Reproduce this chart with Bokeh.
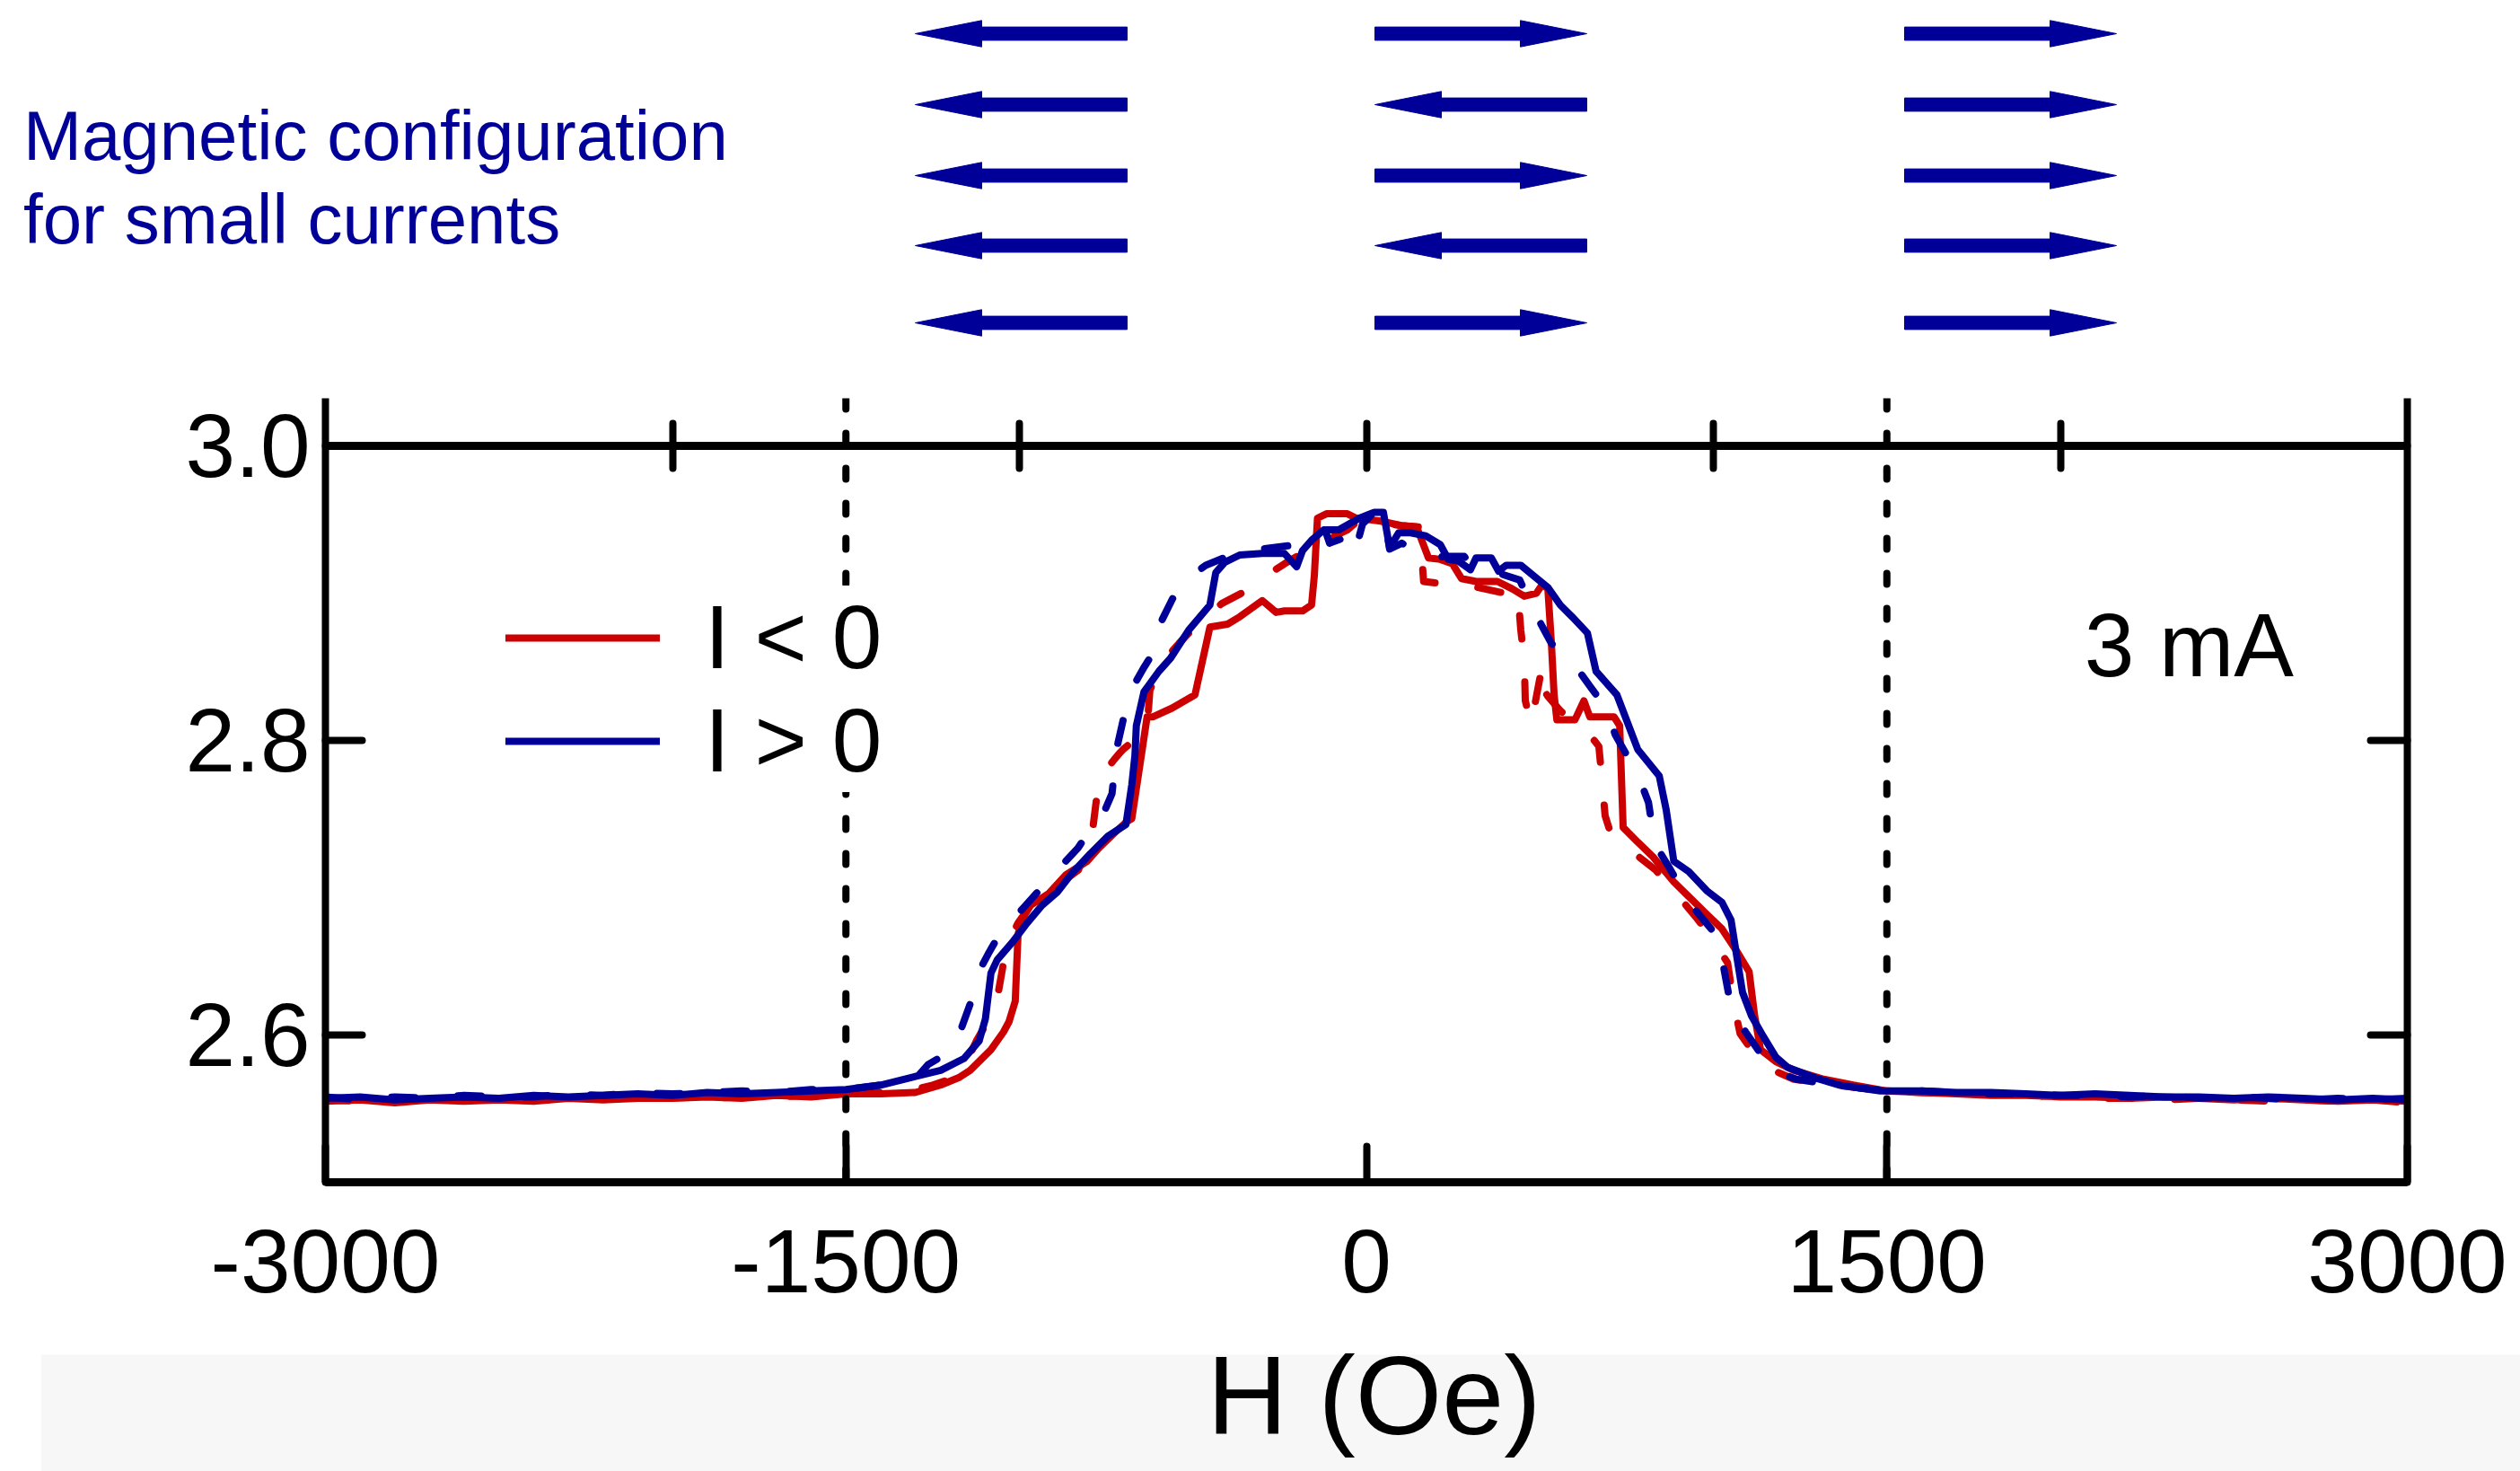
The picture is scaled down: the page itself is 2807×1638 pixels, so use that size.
from bokeh.plotting import figure
from bokeh.models import (Range1d, LinearAxis, FixedTicker, Span, Legend, LegendItem,
                          Label, PrintfTickFormatter, CustomJSTickFormatter)
from bokeh.embed import file_html
from bokeh.resources import INLINE
from bokeh.core.properties import value

# ---------------------------------------------------------------- data
# I < 0, solid sweep
red_solid_H = [-3000, -2900, -2800, -2700, -2600, -2500, -2400, -2300, -2200, -2100, -2000, -1900,
               -1800, -1700, -1600, -1500,
               -1400, -1300, -1227, -1175, -1142, -1082, -1046, -1030, -1012, -1004,
               -994, -968, -916, -865, -805, -771, -727, -690, -676, -632,
               -616, -560, -494, -451, -400, -365, -300, -260, -236, -184,
               -158, -150, -141, -115, -55, -29, 41, 100, 145, 161,
               179, 213, 248, 274, 316, 378, 420, 455, 490, 507,
               523, 533, 541, 549, 601, 627, 644, 714, 730, 740,
               782, 826, 886, 929, 981, 1025, 1070, 1103, 1119, 1136,
               1180, 1232, 1318, 1403, 1500,
               1600, 1700, 1800, 1900, 2000, 2100, 2200, 2300, 2400, 2500, 2600, 2700, 2800, 2900, 3000]
red_solid_R = [2.555, 2.556, 2.554, 2.556, 2.555, 2.556, 2.555, 2.557, 2.556, 2.557, 2.557, 2.558,
               2.557, 2.559, 2.558, 2.560,
               2.560, 2.561, 2.566, 2.571, 2.576, 2.590, 2.602, 2.609, 2.623, 2.668,
               2.678, 2.688, 2.696, 2.709, 2.718, 2.727, 2.737, 2.745, 2.747, 2.816,
               2.816, 2.822, 2.831, 2.877, 2.879, 2.884, 2.895, 2.887, 2.888, 2.888,
               2.892, 2.912, 2.951, 2.954, 2.954, 2.951, 2.949, 2.946, 2.945, 2.935,
               2.924, 2.923, 2.920, 2.910, 2.908, 2.908, 2.903, 2.898, 2.900, 2.906,
               2.903, 2.867, 2.831, 2.814, 2.814, 2.827, 2.816, 2.816, 2.810, 2.741,
               2.731, 2.721, 2.704, 2.694, 2.682, 2.672, 2.656, 2.643, 2.613, 2.590,
               2.582, 2.576, 2.570, 2.566, 2.562,
               2.561, 2.560, 2.559, 2.559, 2.558, 2.558, 2.557, 2.558, 2.557, 2.556, 2.557, 2.556, 2.555, 2.556, 2.555]

# I < 0, dashed sweep
red_dash_H = [-3000, -2900, -2800, -2700, -2600, -2500, -2400, -2300, -2200, -2100, -2000, -1900,
              -1800, -1700, -1600, -1500,
              -1400, -1300, -1250, -1200, -1160, -1124, -1082, -1060, -1051, -1038,
              -1004, -968, -916, -870, -830, -810, -787, -778, -774, -750,
              -727, -709, -701, -650, -630, -624, -593, -540, -487, -417,
              -360, -308, -236, -150, -100, -55, -20, 40, 100, 150,
              158, 165, 200, 300, 400, 430, 440, 445, 455, 458,
              475, 490, 507, 515, 523, 560, 600, 640, 670, 678,
              688, 700, 722, 780, 834, 886, 950, 989, 1041, 1059,
              1077, 1110, 1154, 1232, 1350, 1500,
              1600, 1700, 1800, 1900, 2000, 2100, 2200, 2300, 2400, 2500, 2600, 2700, 2800, 2900, 3000]
red_dash_R = [2.556, 2.555, 2.556, 2.555, 2.557, 2.555, 2.556, 2.556, 2.557, 2.556, 2.558, 2.557,
              2.558, 2.558, 2.559, 2.560,
              2.561, 2.563, 2.566, 2.570, 2.578, 2.596, 2.613, 2.630, 2.642, 2.660,
              2.676, 2.688, 2.696, 2.705, 2.712, 2.724, 2.743, 2.760, 2.772, 2.780,
              2.787, 2.792, 2.794, 2.804, 2.815, 2.834, 2.852, 2.866, 2.879, 2.893,
              2.900, 2.909, 2.920, 2.932, 2.938, 2.943, 2.950, 2.948, 2.946, 2.945,
              2.930, 2.908, 2.907, 2.905, 2.900, 2.903, 2.890, 2.875, 2.855, 2.827,
              2.811, 2.830, 2.851, 2.833, 2.830, 2.820, 2.812, 2.805, 2.796, 2.776,
              2.749, 2.740, 2.733, 2.722, 2.712, 2.698, 2.680, 2.668, 2.649, 2.621,
              2.601, 2.590, 2.578, 2.570, 2.566, 2.562,
              2.561, 2.560, 2.560, 2.558, 2.559, 2.557, 2.557, 2.556, 2.557, 2.556, 2.555, 2.556, 2.555, 2.556, 2.554]

# I > 0, solid sweep
blue_solid_H = [-3000, -2900, -2800, -2700, -2600, -2500, -2400, -2300, -2200, -2100, -2000, -1900,
                -1800, -1700, -1600, -1500,
                -1400, -1297, -1227, -1160, -1116, -1098, -1082, -1064, -1020, -978,
                -935, -891, -848, -796, -745, -693, -676, -667, -663, -641,
                -598, -564, -512, -451, -434, -408, -365, -300, -236, -201,
                -184, -158, -123, -80, -20, 23, 49, 67, 93, 127,
                171, 213, 236, 264, 300, 316, 360, 381, 403, 445,
                481, 523, 559, 593, 637, 662, 722, 782, 844, 864,
                886, 929, 981, 1025, 1051, 1067, 1084, 1110, 1144, 1180,
                1214, 1292, 1362, 1481,
                1600, 1700, 1800, 1900, 2000, 2100, 2200, 2300, 2400, 2500, 2600, 2700, 2800, 2900, 3000]
blue_solid_R = [2.557, 2.558, 2.556, 2.557, 2.558, 2.557, 2.559, 2.558, 2.559, 2.560, 2.559, 2.561,
                2.560, 2.561, 2.562, 2.563,
                2.566, 2.572, 2.576, 2.584, 2.596, 2.611, 2.642, 2.651, 2.663, 2.676,
                2.688, 2.697, 2.710, 2.723, 2.735, 2.743, 2.770, 2.790, 2.810, 2.833,
                2.847, 2.856, 2.875, 2.892, 2.914, 2.921, 2.926, 2.927, 2.927, 2.918,
                2.929, 2.936, 2.943, 2.943, 2.951, 2.955, 2.955, 2.931, 2.941, 2.941,
                2.939, 2.933, 2.923, 2.922, 2.916, 2.924, 2.924, 2.915, 2.919, 2.919,
                2.912, 2.904, 2.892, 2.884, 2.873, 2.847, 2.831, 2.794, 2.776, 2.753,
                2.718, 2.711, 2.698, 2.690, 2.678, 2.654, 2.629, 2.613, 2.599, 2.585,
                2.578, 2.571, 2.566, 2.562,
                2.562, 2.561, 2.561, 2.560, 2.559, 2.560, 2.559, 2.558, 2.558, 2.557, 2.558, 2.557, 2.556, 2.557, 2.556]

# I > 0, dashed sweep
blue_dash_H = [-3000, -2900, -2800, -2700, -2600, -2500, -2400, -2300, -2200, -2100, -2000, -1900,
               -1800, -1700, -1600, -1500,
               -1400, -1300, -1263, -1220, -1185, -1142, -1124, -1090, -1056, -986,
               -891, -831, -780, -753, -733, -720, -700, -681, -640, -611,
               -593, -538, -463, -400, -300, -200, -171, -119, -106, -60,
               -34, -11, 23, 49, 67, 102, 171, 230, 282, 308,
               350, 442, 476, 533, 601, 650, 691, 717, 782, 813,
               831, 877, 930, 1015, 1028, 1051, 1093, 1170, 1240, 1350,
               1500,
               1600, 1700, 1800, 1900, 2000, 2100, 2200, 2300, 2400, 2500, 2600, 2700, 2800, 2900, 3000]
blue_dash_R = [2.558, 2.556, 2.558, 2.557, 2.559, 2.558, 2.558, 2.560, 2.559, 2.561, 2.560, 2.561,
               2.562, 2.561, 2.563, 2.563,
               2.566, 2.570, 2.580, 2.586, 2.593, 2.621, 2.640, 2.655, 2.669, 2.687,
               2.712, 2.727, 2.745, 2.753, 2.764, 2.794, 2.815, 2.833, 2.850, 2.861,
               2.880, 2.906, 2.919, 2.925, 2.930, 2.933, 2.935, 2.943, 2.934, 2.938,
               2.927, 2.947, 2.955, 2.955, 2.930, 2.934, 2.924, 2.925, 2.925, 2.918,
               2.916, 2.909, 2.891, 2.866, 2.851, 2.835, 2.822, 2.804, 2.777, 2.758,
               2.730, 2.712, 2.690, 2.666, 2.648, 2.619, 2.602, 2.576, 2.570, 2.566,
               2.562,
               2.562, 2.561, 2.560, 2.560, 2.559, 2.559, 2.558, 2.559, 2.557, 2.558, 2.557, 2.556, 2.557, 2.556, 2.557]

x_tick_values = [-3000, -1500, 0, 1500, 3000]
y_tick_values = [2.6, 2.8, 3.0]
top_tick_values = [-2000, -1000, 0, 1000, 2000]
boundary_fields = [-1500, 1500]
legend_labels = ["I < 0", "I > 0"]
current_label = "3 mA"
x_label = "H (Oe)"
config_title = ["Magnetic configuration", "for small currents"]
# arrow directions (-1 = left, +1 = right), top to bottom, for the three field regions
config_left = [-1, -1, -1, -1, -1]
config_middle = [1, -1, 1, -1, 1]
config_right = [1, 1, 1, 1, 1]

# ---------------------------------------------------------------- style / layout
RED = "#cc0000"
BLUE = "#000099"
FONT = "Liberation Sans"
W = 2807
TOP_H = 383
MAIN_H = 1101
BOT_H = 154
BAND_H = 130

# ---------------------------------------------------------------- top panel (arrows)
pt = figure(width=W, height=TOP_H, x_range=Range1d(0, W), y_range=Range1d(TOP_H, 0),
            output_backend="svg", toolbar_location=None,
            min_border_left=0, min_border_right=0, min_border_top=0, min_border_bottom=0)
pt.axis.visible = False
pt.grid.visible = False
pt.outline_line_color = None
pt.background_fill_color = "white"
pt.border_fill_color = "white"

col_left_px = [1019, 1531, 2121]
row_px = [37, 116, 195, 273, 359]
arrow_len, head_len, head_half, shaft_half = 236, 74, 14.7, 7.4
xs, ys = [], []
for x0, dirs in zip(col_left_px, [config_left, config_middle, config_right]):
    x1 = x0 + arrow_len
    for yc, d in zip(row_px, dirs):
        if d < 0:
            tip, base, tail = x0, x0 + head_len, x1
        else:
            tip, base, tail = x1, x1 - head_len, x0
        xs.append([tip, base, base, tail, tail, base, base])
        ys.append([yc, yc - head_half, yc - shaft_half, yc - shaft_half,
                   yc + shaft_half, yc + shaft_half, yc + head_half])
pt.patches(xs, ys, fill_color=BLUE, line_color=BLUE, line_width=1)
pt.text(x=[25.5, 25.5], y=[150.5, 243.7], text=config_title, text_font=value(FONT),
        text_font_size=value("78px"), text_color=BLUE, text_baseline="middle",
        text_align="left")

# ---------------------------------------------------------------- main plot
p = figure(width=W, height=MAIN_H, x_range=Range1d(-3000, 3000), y_range=Range1d(2.5, 3.0324),
           output_backend="svg", toolbar_location=None,
           min_border_left=362, min_border_right=126, min_border_top=60, min_border_bottom=168)
p.outline_line_color = None
p.xgrid.visible = False
p.ygrid.visible = False
p.background_fill_color = "white"
p.border_fill_color = "white"

xa = p.xaxis[0]
xa.ticker = FixedTicker(ticks=x_tick_values)
xa.formatter = PrintfTickFormatter(format="%d")
xa.major_tick_in = 40
xa.major_tick_out = 0
xa.minor_tick_line_color = None
xa.axis_line_width = 9
xa.major_tick_line_width = 8
xa.major_tick_line_cap = "round"
xa.major_label_text_font = FONT
xa.major_label_text_font_size = "100px"
xa.major_label_text_color = "black"
xa.major_label_standoff = 53

ya = p.yaxis[0]
ya.ticker = FixedTicker(ticks=y_tick_values)
ya.formatter = PrintfTickFormatter(format="%.1f")
ya.major_tick_in = 41
ya.major_tick_out = 0
ya.minor_tick_line_color = None
ya.axis_line_width = 8
ya.major_tick_line_width = 8
ya.major_tick_line_cap = "round"
ya.major_label_text_font = FONT
ya.major_label_text_font_size = "100px"
ya.major_label_text_color = "black"
ya.major_label_standoff = 17

ra = LinearAxis(ticker=FixedTicker(ticks=y_tick_values),
                formatter=CustomJSTickFormatter(code="return ''"),
                major_tick_in=41, major_tick_out=0, minor_tick_line_color=None,
                axis_line_width=8, major_tick_line_width=8, major_tick_line_cap="round")
p.add_layout(ra, "right")

ta = LinearAxis(fixed_location=3.0, ticker=FixedTicker(ticks=top_tick_values),
                formatter=CustomJSTickFormatter(code="return ''"),
                major_tick_in=25, major_tick_out=25, minor_tick_line_color=None,
                axis_line_width=9, major_tick_line_width=8, major_tick_line_cap="round")
p.add_layout(ta, "above")

for h in boundary_fields:
    p.add_layout(Span(location=h, dimension="height", line_color="black", line_width=8,
                      line_dash="12 27", line_cap="round"))

DASH = "26 48"
r_rd = p.line(red_dash_H, red_dash_R, line_color=RED, line_width=8, line_dash=DASH,
              line_cap="round", line_join="round")
r_rs = p.line(red_solid_H, red_solid_R, line_color=RED, line_width=8,
              line_cap="round", line_join="round")
r_bd = p.line(blue_dash_H, blue_dash_R, line_color=BLUE, line_width=8, line_dash=DASH,
              line_cap="round", line_join="round")
r_bs = p.line(blue_solid_H, blue_solid_R, line_color=BLUE, line_width=8,
              line_cap="round", line_join="round")

legend = Legend(items=[LegendItem(label=legend_labels[0], renderers=[r_rs]),
                       LegendItem(label=legend_labels[1], renderers=[r_bs])],
                location=(201, 434), orientation="vertical",
                glyph_width=172, glyph_height=100, label_standoff=50, spacing=0,
                padding=0, margin=0, border_line_color=None,
                background_fill_color="white", background_fill_alpha=1.0,
                label_text_font=FONT, label_text_font_size="100px", label_text_color="black")
p.add_layout(legend)

p.add_layout(Label(x=2069, y=2.865, text=current_label, text_font=FONT,
                   text_font_size="100px", text_color="black", text_baseline="middle"))

# ---------------------------------------------------------------- bottom strip (axis title)
pb = figure(width=W, height=BOT_H, x_range=Range1d(0, W - 45), y_range=Range1d(0, BOT_H),
            output_backend="svg", toolbar_location=None,
            min_border_left=45, min_border_right=0, min_border_top=0, min_border_bottom=0)
pb.axis.visible = False
pb.grid.visible = False
pb.outline_line_color = None
pb.background_fill_color = "white"
pb.border_fill_color = "white"
pb.quad(left=[0], right=[W - 45], bottom=[0], top=[BAND_H], fill_color="#f7f7f7", line_color=None)
pb.text(x=[1485], y=[85], text=[x_label], text_font=value(FONT), text_font_size=value("124px"),
        text_color="black", text_align="center", text_baseline="middle")

open("out.html", "w").write(file_html([pt, p, pb], INLINE))
